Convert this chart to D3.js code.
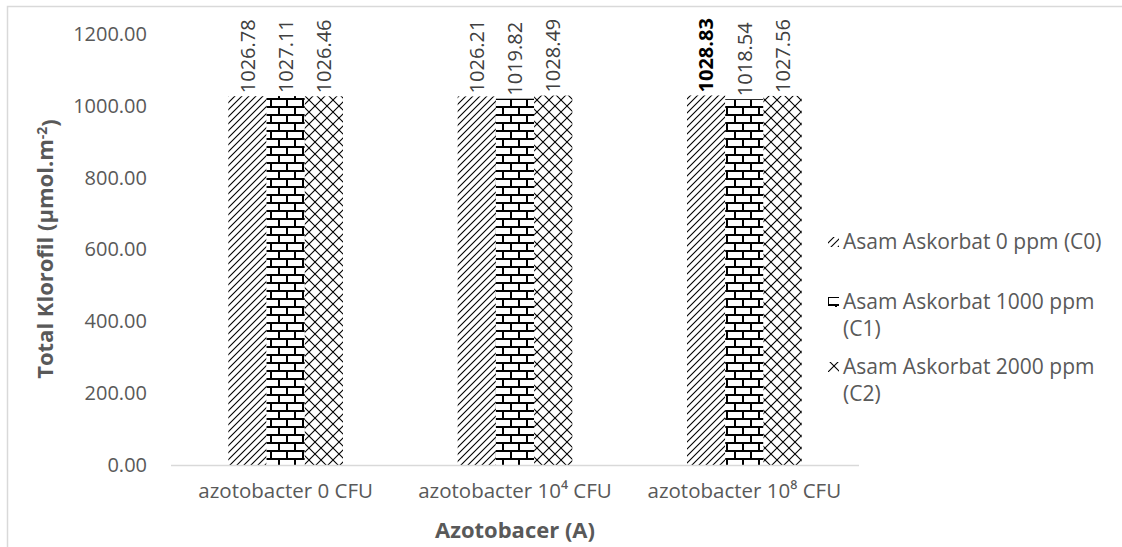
<!DOCTYPE html>
<html>
<head>
<meta charset="utf-8">
<script src="https://cdn.jsdelivr.net/npm/d3@7"></script>
<style>
  body { margin: 0; background: #fff; }
  svg { display: block; font-family: "Open Sans", "Noto Sans", sans-serif; }
</style>
</head>
<body>
<svg id="chart" width="1122" height="547"></svg>
<script>
// chart data
const categories = ['azotobacter 0 CFU', 'azotobacter 10\u2074 CFU', 'azotobacter 10\u2078 CFU'];
const seriesNames = ['Asam Askorbat 0 ppm (C0)', 'Asam Askorbat 1000 ppm (C1)', 'Asam Askorbat 2000 ppm (C2)'];
const legendLines = [['Asam Askorbat 0 ppm (C0)'], ['Asam Askorbat 1000 ppm', '(C1)'], ['Asam Askorbat 2000 ppm', '(C2)']];
const c0Values = [1026.78, 1026.21, 1028.83];
const c1Values = [1027.11, 1019.82, 1018.54];
const c2Values = [1026.46, 1028.49, 1027.56];
const yTicks = [0, 200, 400, 600, 800, 1000, 1200];

const seriesValues = [c0Values, c1Values, c2Values];
const patternIds = ['pat-diag', 'pat-brick', 'pat-cross'];

const margin = {top: 34, left: 171, right: 263, bottom: 82};
const width = 1122 - margin.left - margin.right;
const height = 547 - margin.top - margin.bottom;

const svg = d3.select('#chart');

// patterns
const defs = svg.append('defs');
const diag = defs.append('pattern').attr('id', 'pat-diag')
    .attr('patternUnits', 'userSpaceOnUse').attr('width', 7).attr('height', 7);
diag.append('rect').attr('width', 7).attr('height', 7).attr('fill', '#fff');
diag.append('path').attr('d', 'M-1,1 L1,-1 M0,7 L7,0 M6,8 L8,6')
    .attr('stroke', '#000').attr('stroke-width', 1.1);

const brick = defs.append('pattern').attr('id', 'pat-brick')
    .attr('patternUnits', 'userSpaceOnUse').attr('width', 16).attr('height', 16);
brick.append('rect').attr('width', 16).attr('height', 16).attr('fill', '#fff');
brick.append('path').attr('d', 'M0,1 H16 M0,9 H16 M4,1 V9 M12,9 V17 M12,-1 V1')
    .attr('stroke', '#000').attr('stroke-width', 2).attr('fill', 'none');

const cross = defs.append('pattern').attr('id', 'pat-cross')
    .attr('patternUnits', 'userSpaceOnUse').attr('width', 12).attr('height', 12);
cross.append('rect').attr('width', 12).attr('height', 12).attr('fill', '#fff');
cross.append('path').attr('d', 'M0,0 L12,12 M0,12 L12,0')
    .attr('stroke', '#000').attr('stroke-width', 1.1);

// chart border (right and bottom edges fall outside the picture)
svg.append('path')
    .attr('d', 'M7.5,547 V6.5 H1122')
    .attr('fill', 'none').attr('stroke', '#d9d9d9').attr('stroke-width', 1.5);

const chart = svg.append('g').attr('transform', `translate(${margin.left},${margin.top})`);

const x0 = d3.scaleBand().domain(categories).range([0, width]).paddingInner(0.5).paddingOuter(0.25);
const x1 = d3.scaleBand().domain(d3.range(seriesNames.length)).range([0, x0.bandwidth()]);
const y = d3.scaleLinear().domain([0, 1200]).range([height, 0]);

// y axis
const yAxisG = chart.append('g')
    .call(d3.axisLeft(y).tickValues(yTicks).tickSize(0).tickPadding(24).tickFormat(d3.format('.2f')));
yAxisG.select('.domain').remove();
yAxisG.selectAll('text').attr('fill', '#595959').style('font-size', '20px')
    .style('font-family', '"Open Sans", "Noto Sans", sans-serif');

// bars
const rows = [];
categories.forEach((c, i) => seriesValues.forEach((vals, s) => rows.push({cat: c, s: s, value: vals[i]})));
const maxVal = d3.max(rows, d => d.value);

chart.selectAll('.bar')
    .data(rows)
  .join('rect')
    .attr('class', 'bar')
    .attr('x', d => x0(d.cat) + x1(d.s))
    .attr('width', x1.bandwidth())
    .attr('y', d => y(d.value))
    .attr('height', d => height - y(d.value))
    .attr('fill', d => `url(#${patternIds[d.s]})`);

// x axis line
chart.append('line')
    .attr('x1', 0).attr('x2', width)
    .attr('y1', height + 0.5).attr('y2', height + 0.5)
    .attr('stroke', '#d9d9d9').attr('stroke-width', 1.5);

const xAxisG = chart.append('g').attr('transform', `translate(0,${height})`)
    .call(d3.axisBottom(x0).tickSize(0).tickPadding(18));
xAxisG.select('.domain').remove();
xAxisG.selectAll('text').attr('fill', '#595959').style('font-size', '20.5px')
    .style('font-family', '"Open Sans", "Noto Sans", sans-serif');

// data labels
chart.selectAll('.label')
    .data(rows)
  .join('text')
    .attr('class', 'label')
    .attr('transform', d => `translate(${x0(d.cat) + x1(d.s) + x1.bandwidth() / 2},${y(d.value) - 3}) rotate(-90)`)
    .attr('dy', '0.36em')
    .attr('fill', d => d.value === maxVal ? '#000' : '#404040')
    .attr('font-weight', d => d.value === maxVal ? 'bold' : 'normal')
    .style('font-size', '20px')
    .text(d => d.value.toFixed(2));

// axis titles
svg.append('text')
    .attr('x', 515).attr('y', 538)
    .attr('text-anchor', 'middle')
    .attr('fill', '#595959').attr('font-weight', 'bold')
    .style('font-size', '22px')
    .text('Azotobacer (A)');

const yTitle = svg.append('text')
    .attr('transform', 'translate(53,249) rotate(-90)')
    .attr('text-anchor', 'middle')
    .attr('fill', '#595959').attr('font-weight', 'bold')
    .style('font-size', '22px');
yTitle.append('tspan').text('Total Klorofil (\u00b5mol.m');
yTitle.append('tspan').attr('dy', '-0.45em').style('font-size', '14px').text('-2');
yTitle.append('tspan').attr('dy', '0.45em').text(')');

// legend
const legendY = [242, 302, 367];
const legend = svg.append('g');
legendLines.forEach((lines, i) => {
  legend.append('rect')
      .attr('x', 828).attr('y', legendY[i] - 5)
      .attr('width', 11).attr('height', 10)
      .attr('fill', `url(#${patternIds[i]})`);
  lines.forEach((t, j) => {
    legend.append('text')
        .attr('x', 843).attr('y', legendY[i] + j * 27)
        .attr('dy', '0.35em')
        .attr('fill', '#595959')
        .style('font-size', '21px')
        .text(t);
  });
});
</script>
</body>
</html>
